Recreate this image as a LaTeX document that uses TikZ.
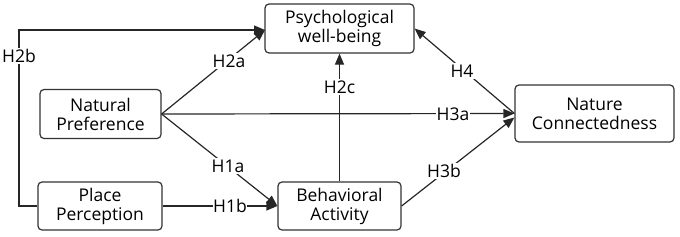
\documentclass[tikz,border=0pt]{standalone}
\usepackage{fontspec}
\setmainfont{Open Sans}
\usetikzlibrary{arrows.meta,calc}
\begin{document}
\begin{tikzpicture}[x=1pt,y=-1pt,
  box/.style={draw=black!80,line width=1.2pt,rounded corners=4pt,align=center,inner sep=0pt,font=\fontsize{17.5}{21}\selectfont},
  conn/.style={draw=black!85,line width=1.2pt},
  arr/.style={conn,-{Triangle[length=11pt,width=9pt]}},
  lab/.style={fill=white,inner sep=1.5pt,font=\fontsize{17.5}{21}\selectfont}]
\useasboundingbox (0,0) rectangle (680,236);
\node[box,minimum width=149pt,minimum height=49pt] (pw) at (339.5,28.5) {Psychological\\[-2pt]well-being};
\node[box,minimum width=121pt,minimum height=49pt] (np) at (100.5,114) {Natural\\[-2pt]Preference};
\node[box,minimum width=124pt,minimum height=48pt] (pp) at (100,206) {Place\\[-2pt]Perception};
\node[box,minimum width=123pt,minimum height=48pt] (ba) at (339.5,206) {Behavioral\\[-2pt]Activity};
\node[box,minimum width=159pt,minimum height=57pt] (nc) at (594.5,113.5) {Nature\\[-2pt]Connectedness};
\coordinate (c1) at (19,206);
\coordinate (c2) at (19,30);
\coordinate (pwin) at (265,30);
% H2b
\draw[arr] (pp.west) -- (c1) -- (c2) -- (pwin);
\node[lab] (l2b) at (19,56) {H2b};
% H2a
\draw[arr] (np.east) -- (pwin);
\node[lab] (l2a) at (229,61) {H2a};
% H3a
\draw[arr] (np.east) -- (nc.west);
\node[lab,inner sep=0.5pt] (l3a) at (453,114) {H3a};
% H1a
\draw[arr] (np.east) -- (ba.west);
\node[lab] (l1a) at (228,166) {H1a};
% H1b
\draw[arr] (pp.east) -- (ba.west);
\node[lab,inner sep=0.5pt] (l1b) at (230,206) {H1b};
% H2c
\draw[arr] (ba.north) -- (pw.south);
\node[lab] (l2c) at (339.5,87) {H2c};
% H3b
\draw[arr] (ba.east) -- ($(nc.west)+(0,4)$);
\node[lab] (l3b) at (444,171) {H3b};
% H4
\draw[arr] (nc.west) -- (pw.east);
\node[lab] (l4) at (462,71) {H4};
\end{tikzpicture}
\end{document}
